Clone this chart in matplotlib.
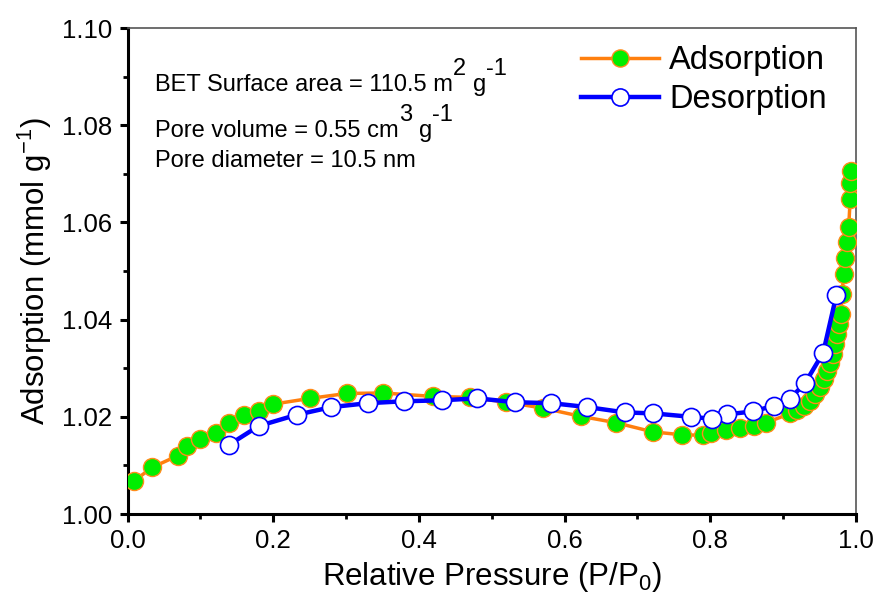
import numpy as np
import matplotlib
matplotlib.use('Agg')
import matplotlib.pyplot as plt
from matplotlib.ticker import MultipleLocator, FormatStrFormatter
from matplotlib.transforms import IdentityTransform

plt.rcParams['font.family'] = ['Liberation Sans', 'DejaVu Sans']
plt.rcParams['mathtext.fontset'] = 'custom'
plt.rcParams['mathtext.rm'] = 'Liberation Sans'
plt.rcParams['mathtext.it'] = 'Liberation Sans'

# adsorption branch (P/P0, mmol/g)
ads_p = [0.009, 0.034, 0.069, 0.081, 0.100, 0.121, 0.140, 0.160, 0.180, 0.200,
         0.251, 0.301, 0.351, 0.419, 0.470, 0.520, 0.570, 0.622, 0.670, 0.721,
         0.761, 0.790, 0.801, 0.822, 0.841, 0.860, 0.877, 0.910, 0.919, 0.928,
         0.937, 0.944, 0.951, 0.956, 0.960, 0.964, 0.969, 0.971, 0.974, 0.977,
         0.979, 0.981, 0.983, 0.985, 0.987, 0.990, 0.992, 0.992, 0.993]
ads_q = [1.0068, 1.0096, 1.0120, 1.0139, 1.0155, 1.0167, 1.0187, 1.0204, 1.0212, 1.0226,
         1.0238, 1.0248, 1.0249, 1.0242, 1.0240, 1.0230, 1.0218, 1.0201, 1.0188, 1.0169,
         1.0163, 1.0162, 1.0166, 1.0172, 1.0176, 1.0182, 1.0188, 1.0207, 1.0213, 1.0223,
         1.0233, 1.0247, 1.0261, 1.0278, 1.0295, 1.0310, 1.0329, 1.0350, 1.0370, 1.0391,
         1.0412, 1.0453, 1.0494, 1.0527, 1.0559, 1.0591, 1.0648, 1.0681, 1.0706]

# desorption branch
des_p = [0.973, 0.955, 0.930, 0.909, 0.888, 0.858, 0.823, 0.802, 0.773, 0.722,
         0.683, 0.631, 0.582, 0.532, 0.480, 0.432, 0.380, 0.330, 0.280, 0.232,
         0.180, 0.140]
des_q = [1.0450, 1.0332, 1.0269, 1.0237, 1.0223, 1.0211, 1.0205, 1.0196, 1.0200, 1.0207,
         1.0209, 1.0220, 1.0228, 1.0230, 1.0238, 1.0234, 1.0232, 1.0228, 1.0220, 1.0204,
         1.0181, 1.0143]

# annotation lines: (text, raised?) pieces, Origin-style full size superscripts
notes = [
    [('BET Surface area = 110.5 m', False), ('2', True), (' ', False), ('g', False), ('-1', True)],
    [('Pore volume = 0.55 cm', False), ('3', True), (' ', False), ('g', False), ('-1', True)],
    [('Pore diameter = 10.5 nm', False)],
]

W, H, DPI = 877, 604, 100
fig = plt.figure(figsize=(W / DPI, H / DPI), dpi=DPI)
ax = fig.add_axes([127.5 / W, 1 - 514 / H, (856 - 127.5) / W, (514 - 28) / H])

ax.plot(ads_p, ads_q, color='#ff7f0e', lw=2.5, marker='o', ms=13,
        mfc='#00ee00', mec='#ff8c1a', mew=1.0, label='Adsorption', zorder=3)
ax.plot(des_p, des_q, color='#0000ff', lw=3.2, marker='o', ms=13,
        mfc='white', mec='#0000ff', mew=1.2, label='Desorption', zorder=4)

ax.set_xlim(0, 1.0)
ax.set_ylim(1.00, 1.10)
ax.xaxis.set_major_locator(MultipleLocator(0.2))
ax.xaxis.set_minor_locator(MultipleLocator(0.1))
ax.yaxis.set_major_locator(MultipleLocator(0.02))
ax.yaxis.set_minor_locator(MultipleLocator(0.01))
ax.xaxis.set_major_formatter(FormatStrFormatter('%.1f'))
ax.yaxis.set_major_formatter(FormatStrFormatter('%.2f'))
ax.tick_params(which='major', direction='out', length=6, width=2.2, labelsize=18.5, pad=5)
ax.tick_params(which='minor', direction='out', length=3.5, width=2)
ax.tick_params(top=False, right=False)

ax.spines['left'].set_linewidth(2.2)
ax.spines['bottom'].set_linewidth(2.2)
ax.spines['top'].set_linewidth(1.2)
ax.spines['right'].set_linewidth(1.2)
ax.spines['top'].set_color('#555555')
ax.spines['right'].set_color('#555555')

ax.set_xlabel('Relative Pressure (P/P$_0$)', fontsize=22.5, labelpad=5)
ax.set_ylabel('Adsorption (mmol g$^{-1}$)', fontsize=22.5, labelpad=6)

# draw the annotation piece by piece, in pixel coordinates
renderer = fig.canvas.get_renderer()
fs = 17
fs_px = fs * DPI / 72
baselines = [H - 91, H - 137, H - 167]
for pieces, yb in zip(notes, baselines):
    x0 = 155
    for s, up in pieces:
        if s == ' ':
            x0 += 0.3 * fs_px
            continue
        t = fig.text(x0, yb + (0.66 * fs_px if up else 0), s, transform=IdentityTransform(),
                     fontsize=fs, ha='left', va='baseline')
        x0 += t.get_window_extent(renderer).width

ax.legend(loc='upper right', bbox_to_anchor=(1.0, 1.025), frameon=False, fontsize=23.5,
          handlelength=2.4, handletextpad=0.3, labelspacing=0.25, borderpad=0.3,
          markerscale=0.95, borderaxespad=0.6)

fig.savefig('out.png', dpi=DPI)
